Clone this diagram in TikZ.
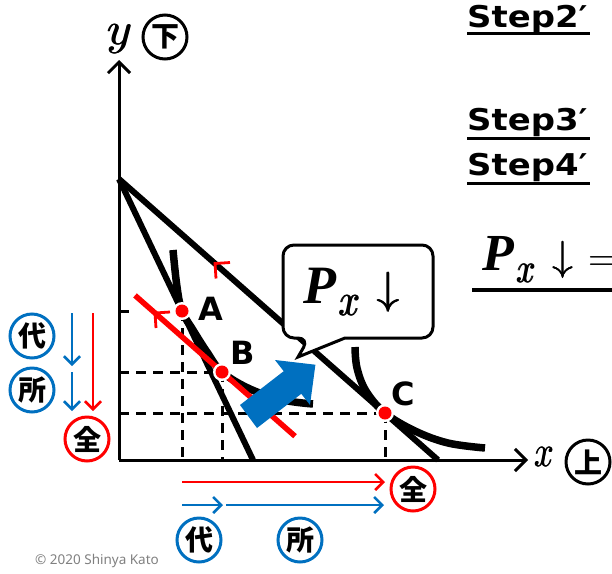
\documentclass[tikz,border=0pt]{standalone}
\usepackage{fontspec}
\usetikzlibrary{arrows.meta}
\newfontfamily\jpfont{Noto Sans CJK JP}
\newfontfamily\dvsfont{DejaVu Sans}
\newfontfamily\ntsfont{Noto Sans}
\newfontfamily\lsfont{Liberation Serif}
\newcommand{\bip}[1]{{\lsfont\bfseries\itshape\fontsize{#1}{#1}\selectfont P}}
\newcommand{\fakebold}[2]{\rlap{#2}\kern#1\rlap{#2}\kern#1#2}
\definecolor{myblue}{HTML}{0070C0}
\definecolor{myred}{HTML}{FF0000}
\begin{document}
\begin{tikzpicture}[x=1pt,y=-1pt,
  axisline/.style={line width=3pt,-{Straight Barb[length=11pt,width=22pt]}},
  budget/.style={line width=6pt},
  icurve/.style={line width=7.5pt},
  dsh/.style={line width=3pt,dash pattern=on 10pt off 7pt},
  barb/.style={line width=2.6pt,-{Straight Barb[length=8pt,width=16pt]}},
  kanji/.style={circle,draw,line width=3pt,minimum size=44pt,inner sep=0pt,fill=white,font={\jpfont\bfseries\fontsize{28}{28}\selectfont}},
  ptlabel/.style={font={\dvsfont\bfseries\fontsize{32}{32}\selectfont},inner sep=0pt},
  steptext/.style={font={\dvsfont\bfseries\fontsize{30}{30}\selectfont},anchor=base west,inner sep=0pt},
  dotwhite/.style={circle,fill=white,minimum size=18pt,inner sep=0pt},
  dotred/.style={circle,fill=myred,minimum size=13pt,inner sep=0pt}
]
\useasboundingbox (0,0) rectangle (612,573);
\clip (0,0) rectangle (612,573);

% key coordinates
\coordinate (O) at (119,460);
\coordinate (Ytop) at (119,60);
\coordinate (Xend) at (528,460);
\coordinate (Y0) at (119,179);
\coordinate (Send) at (253,460);
\coordinate (Fend) at (438,460);
\coordinate (A) at (182,311);
\coordinate (B) at (222,372);
\coordinate (C) at (385,413);

% dashed guides
\draw[dsh] (119,311) -- (134,311);
\draw[dsh] (A) -- (A |- O);
\draw[dsh] (O |- B) -- (B);
\draw[dsh] (B) -- (B |- O);
\draw[dsh] (O |- C) -- (C);
\draw[dsh] (C) -- (C |- O);

% axes
\draw[axisline] (O) -- (Ytop);
\draw[axisline] (O) -- (Xend);

% budget lines
\draw[budget] (Y0) -- (Send);
\draw[budget] (Y0) -- (Fend);

% indifference curves
\draw[icurve] plot[smooth,tension=0.6] coordinates {(173,250) (177,287) (A) (193,330) (207,352) (B) (250,389) (283,400) (313,404)};
\draw[icurve] plot[smooth,tension=0.6] coordinates {(355,347) (357,368) (366,391) (C) (415,431) (448,443) (485,448)};

% compensated budget line
\coordinate (R1) at (135,295.4);
\coordinate (R2) at (295,436.2);
\draw[myred,line width=5.5pt] (R1) -- (R2);
\draw[myred,line width=2.8pt] (230,262.5) -- (215,263.5) -- (216,278.5);
\draw[myred,line width=2.8pt] (170,312) -- (155,313) -- (156,328);

% callout
\draw[line width=3pt,fill=white,line join=miter] (298,357) -- (345,338) [rounded corners=11pt] -- (433,338) -- (433,245) -- (283,245) -- (283,338) -- (309,338) [sharp corners] -- cycle;
\node[inner sep=0pt,anchor=base west] (px) at (303,303) {\bip{54}\hspace{2pt}\raisebox{-12pt}{\scalebox{3.7}[4.6]{\fakebold{0.18pt}{$x$}}}\hspace{16pt}\scalebox{4.5}{\fakebold{0.1pt}{$\downarrow$}}};

% blue block arrow
\fill[myblue] (240,405) -- (283.7,371.2) -- (275,360) -- (315.4,364.7) -- (310,405) -- (301.3,393.8) -- (257,428) -- cycle;

% points
\foreach \p in {A,B,C}{\node[dotwhite] at (\p) {}; \node[dotred] at (\p) {};}
\node[ptlabel] (lA) at (210.5,308.5) {A};
\node[ptlabel] (lB) at (243,353) {B};
\node[ptlabel] (lC) at (403,393.5) {C};

% axis labels
\node[inner sep=0pt,anchor=base] (ylab) at (119.5,44) {\scalebox{4.8}[4.6]{\fakebold{0.12pt}{$y$}}};
\node[kanji] (shita) at (165,37) {下};
\node[inner sep=0pt,anchor=base] (xlab) at (544,466) {\scalebox{3.4}[4.4]{\fakebold{0.12pt}{$x$}}};
\node[kanji] (ue) at (588,462) {上};

% left side
\node[kanji,draw=myblue] (dai1) at (32,336) {代};
\node[kanji,draw=myblue] (sho1) at (32,390) {所};
\node[kanji,draw=myred] (zen1) at (87,439) {全};
\coordinate (lb1) at (72,313); \coordinate (lb2) at (72,366);
\coordinate (lb3) at (72,372); \coordinate (lb4) at (72,411);
\coordinate (lr1) at (93,313); \coordinate (lr2) at (93,411);
\draw[barb,myblue] (lb1) -- (lb2);
\draw[barb,myblue] (lb3) -- (lb4);
\draw[barb,myred] (lr1) -- (lr2);

% bottom
\node[kanji,draw=myred] (zen2) at (413,489) {全};
\node[kanji,draw=myblue] (dai2) at (199,540) {代};
\node[kanji,draw=myblue] (sho2) at (300,540) {所};
\coordinate (br1) at (182,482); \coordinate (br2) at (385,482);
\coordinate (bb1) at (182,505); \coordinate (bb2) at (223,505);
\coordinate (bb3) at (226,505); \coordinate (bb4) at (384,505);
\draw[barb,myred] (br1) -- (br2);
\draw[barb,myblue] (bb1) -- (bb2);
\draw[barb,myblue] (bb3) -- (bb4);

% right text
\node[steptext] (s2) at (467,27) {\scalebox{1.13}[1]{Step2′}};
\node[steptext] (s3) at (467,130) {\scalebox{1.13}[1]{Step3′}};
\node[steptext] (s4) at (467,175) {\scalebox{1.13}[1]{Step4′}};
\draw[line width=3pt] (467,33) -- (590,33);
\draw[line width=3pt] (467,138) -- (590,138);
\draw[line width=3pt] (467,183) -- (590,183);

\node[inner sep=0pt,anchor=base west] (pxr) at (482,270) {\bip{52}\hspace{2pt}\raisebox{-12pt}{\scalebox{3.3}[4.2]{\fakebold{0.18pt}{$x$}}}\hspace{16pt}\scalebox{4.2}{\fakebold{0.1pt}{$\downarrow$}}\hspace{14pt}\scalebox{3.8}{$=$}};
\draw[line width=4pt] (472,290) -- (612,290);

% copyright
\node[inner sep=0pt,anchor=west,text=black!50,font={\ntsfont\fontsize{13.5}{13.5}\selectfont}] (copy) at (35,561) {© 2020 Shinya Kato};
\end{tikzpicture}
\end{document}
